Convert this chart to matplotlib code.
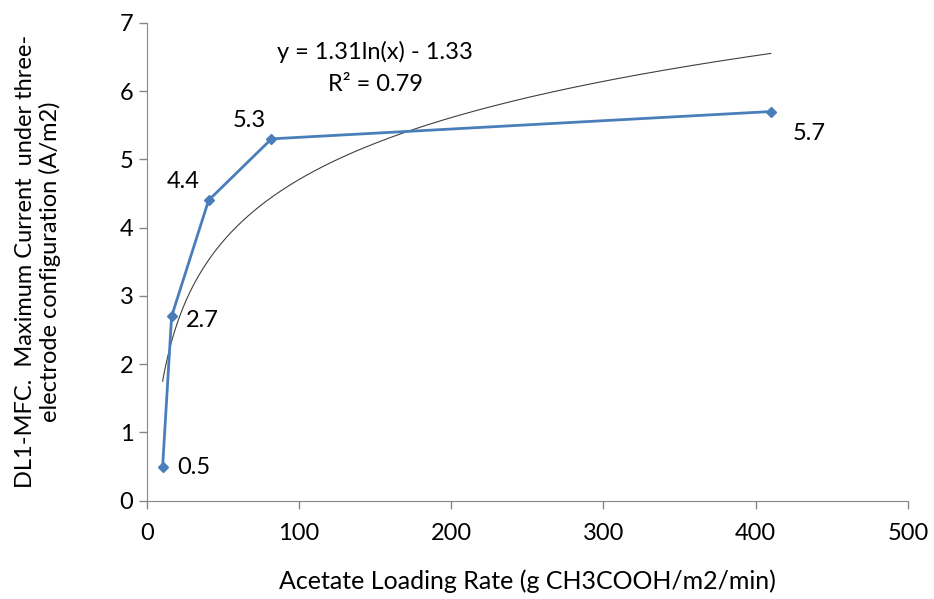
import matplotlib
matplotlib.use("Agg")
import matplotlib.pyplot as plt
import numpy as np

plt.rcParams['font.family'] = ['Lato', 'DejaVu Sans']

# data
loading_rate = [10.5, 16.4, 40.7, 82, 410]
max_current = [0.5, 2.7, 4.4, 5.3, 5.7]
point_labels = ['0.5', '2.7', '4.4', '5.3', '5.7']
label_offsets = [(15, -1), (14, -4), (-42, 19), (-39, 18), (22, -22)]

# logarithmic trendline y = 1.31 ln(x) - 1.33
fit_a, fit_b = 1.31, -1.33

fig = plt.figure(figsize=(9.34, 5.99), dpi=100)
ax = fig.add_axes([0.157, 0.164, 0.815, 0.798])

xs = np.linspace(loading_rate[0], loading_rate[-1], 400)
ax.plot(xs, fit_a * np.log(xs) + fit_b, color='#404040', lw=0.8)

ax.plot(loading_rate, max_current, color='#4a7ebb', lw=2, marker='D', ms=5)

for x, y, txt, off in zip(loading_rate, max_current, point_labels, label_offsets):
    ax.annotate(txt, (x, y), xytext=off, textcoords='offset pixels',
                fontsize=17, va='center', ha='left')

ax.text(150, 6.57, 'y = 1.31ln(x) - 1.33', fontsize=17, ha='center', va='center')
ax.text(150, 6.09, 'R² = 0.79', fontsize=17, ha='center', va='center')

ax.set_xlim(0, 500)
ax.set_ylim(0, 7)
ax.set_xticks(range(0, 501, 100))
ax.set_yticks(range(0, 8))
ax.tick_params(labelsize=17, color='#868686', length=6, width=1)
ax.tick_params(axis='x', pad=10)
for side in ['top', 'right']:
    ax.spines[side].set_visible(False)
for side in ['left', 'bottom']:
    ax.spines[side].set_color('#868686')

ax.set_xlabel('Acetate Loading Rate (g CH3COOH/m2/min)', fontsize=18, labelpad=18)
ax.set_ylabel('DL1-MFC.  Maximum Current  under three-\nelectrode configuration (A/m2)',
              fontsize=17)
ax.yaxis.set_label_coords(-0.112, 0.5)

fig.savefig('out.png', dpi=100)
